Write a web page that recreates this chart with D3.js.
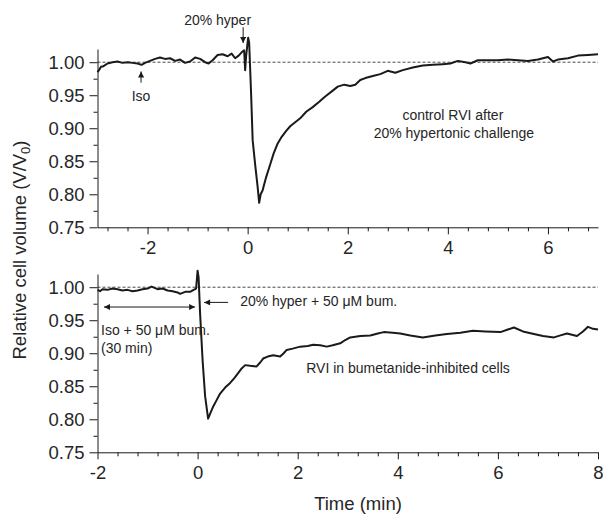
<!DOCTYPE html>
<html><head><meta charset="utf-8">
<script src="https://cdn.jsdelivr.net/npm/d3@7/dist/d3.min.js"></script>
<style>
html,body{margin:0;padding:0;background:#fff;}
svg{display:block;font-family:"Liberation Sans",Arial,Helvetica,sans-serif;}
</style></head>
<body>
<svg id="chart" width="603" height="514"></svg>
<script>
// ---- data (time in min, relative volume V/V0) ----
const controlTime = [-3.00,-2.97,-2.93,-2.88,-2.80,-2.70,-2.60,-2.50,-2.40,-2.30,-2.20,-2.12,-2.05,-1.95,-1.85,-1.75,-1.65,-1.55,-1.45,-1.35,-1.25,-1.15,-1.05,-0.95,-0.85,-0.78,-0.70,-0.60,-0.50,-0.40,-0.32,-0.25,-0.18,-0.12,-0.07,-0.05,-0.03,0.01,0.03,0.07,0.10,0.15,0.20,0.23,0.26,0.30,0.32,0.37,0.45,0.52,0.60,0.68,0.77,0.85,0.95,1.05,1.17,1.30,1.43,1.55,1.70,1.80,1.93,2.05,2.15,2.25,2.35,2.50,2.65,2.80,2.95,3.10,3.30,3.50,3.70,3.90,4.05,4.20,4.35,4.45,4.60,4.80,5.00,5.20,5.40,5.60,5.80,6.00,6.10,6.20,6.40,6.60,6.80,7.00];
const controlVolume = [0.985,0.988,0.993,0.994,0.998,1.000,1.001,0.999,1.000,0.999,0.998,0.996,0.999,1.002,1.005,1.007,1.005,1.006,1.002,1.004,0.999,1.001,1.007,1.005,1.000,0.998,1.003,1.011,1.012,1.009,1.013,1.006,1.010,1.015,1.018,0.988,1.010,1.037,1.030,0.950,0.882,0.845,0.811,0.787,0.800,0.806,0.812,0.826,0.845,0.862,0.877,0.887,0.896,0.903,0.909,0.915,0.925,0.932,0.940,0.948,0.957,0.963,0.966,0.964,0.966,0.973,0.976,0.979,0.982,0.987,0.984,0.988,0.992,0.995,0.996,0.997,0.998,1.002,1.000,0.998,1.003,1.003,1.003,1.004,1.003,1.002,1.004,1.008,1.001,1.004,1.006,1.010,1.011,1.012];

const bumTime = [-2.00,-1.95,-1.90,-1.80,-1.70,-1.60,-1.50,-1.40,-1.30,-1.20,-1.10,-1.00,-0.92,-0.80,-0.70,-0.60,-0.50,-0.40,-0.35,-0.25,-0.15,-0.08,-0.03,0.00,0.02,0.05,0.10,0.15,0.21,0.26,0.31,0.38,0.45,0.55,0.65,0.73,0.81,0.88,0.95,1.05,1.18,1.25,1.31,1.40,1.51,1.65,1.72,1.78,1.90,2.05,2.20,2.31,2.45,2.58,2.70,2.85,2.95,3.05,3.25,3.45,3.60,3.72,3.90,4.05,4.25,4.50,4.75,4.98,5.25,5.50,5.75,6.05,6.20,6.32,6.50,6.72,6.90,7.12,7.25,7.38,7.58,7.70,7.80,7.90,8.00];
const bumVolume = [0.996,0.994,0.997,0.996,0.998,0.997,0.995,0.996,0.994,0.995,0.997,0.998,1.001,0.997,0.998,0.995,0.994,0.992,0.990,0.993,0.993,0.996,0.998,1.025,1.015,0.960,0.889,0.835,0.801,0.810,0.819,0.829,0.839,0.848,0.855,0.862,0.870,0.877,0.882,0.881,0.880,0.886,0.892,0.895,0.897,0.895,0.900,0.905,0.907,0.910,0.911,0.913,0.912,0.910,0.912,0.915,0.920,0.924,0.926,0.927,0.930,0.932,0.931,0.930,0.927,0.924,0.927,0.929,0.931,0.934,0.933,0.932,0.936,0.939,0.933,0.929,0.926,0.924,0.927,0.930,0.926,0.933,0.940,0.937,0.936];

const yTickValues = [0.75,0.80,0.85,0.90,0.95,1.00];
const yMinorValues = [0.775,0.825,0.875,0.925,0.975];
const topXTicks = [-2,0,2,4,6];
const topXMinor = [-2.8,-2.4,-1.6,-1.2,-0.8,-0.4,0.4,0.8,1.2,1.6,2.4,2.8,3.2,3.6,4.4,4.8,5.2,5.6,6.4,6.8];
const botXTicks = [-2,0,2,4,6,8];
const botXMinor = [-1.6,-1.2,-0.8,-0.4,0.4,0.8,1.2,1.6,2.4,2.8,3.2,3.6,4.4,4.8,5.2,5.6,6.4,6.8,7.2,7.6];

// ---- layout ----
const svg = d3.select("#chart");
const ink = "#1a1a1a", txt = "#262626";
const tickFont = 18.5, noteFont = 14;
const hyphenFmt = d => String(d);

const panels = [
  {time: controlTime, vol: controlVolume, xd: [-3,7], xr: [97.5,598], yr: [227.3,49], ticks: topXTicks, minor: topXMinor},
  {time: bumTime, vol: bumVolume, xd: [-2,8], xr: [97.5,598], yr: [452.3,274], ticks: botXTicks, minor: botXMinor}
];

panels.forEach(p => {
  p.x = d3.scaleLinear().domain(p.xd).range(p.xr);
  p.y = d3.scaleLinear().domain([0.75,1.02]).range(p.yr);
  const g = svg.append("g");
  g.append("line")
    .attr("x1", p.x(p.xd[0])).attr("x2", p.x(p.xd[1]))
    .attr("y1", p.y(1)).attr("y2", p.y(1))
    .attr("stroke", "#333").attr("stroke-width", 0.9).attr("stroke-dasharray", "3,2");
  const pts = p.time.map((t,i) => [t, p.vol[i]]);
  g.append("path").datum(pts)
    .attr("fill","none").attr("stroke", ink).attr("stroke-width", 2)
    .attr("stroke-linejoin","round")
    .attr("d", d3.line().x(d => p.x(d[0])).y(d => p.y(d[1])));
  const y0 = p.y(0.75);
  const xa = g.append("g").attr("transform", `translate(0,${y0})`)
    .call(d3.axisBottom(p.x).tickValues(p.ticks).tickSize(7).tickSizeOuter(0).tickPadding(7).tickFormat(hyphenFmt));
  const xm = g.append("g").attr("transform", `translate(0,${y0})`)
    .call(d3.axisBottom(p.x).tickValues(p.minor).tickSize(4).tickFormat(""));
  xm.select(".domain").remove();
  const ya = g.append("g").attr("transform", `translate(${p.x(p.xd[0])},0)`)
    .call(d3.axisLeft(p.y).tickValues(yTickValues).tickSize(8).tickSizeOuter(0).tickPadding(5).tickFormat(d3.format(".2f")));
  const ym = g.append("g").attr("transform", `translate(${p.x(p.xd[0])},0)`)
    .call(d3.axisLeft(p.y).tickValues(yMinorValues).tickSize(4).tickFormat(""));
  ym.select(".domain").remove();
  [xa, xm, ya, ym].forEach(a => {
    a.selectAll("path,line").attr("stroke", ink).attr("stroke-width", 1);
    a.selectAll("text").attr("fill", txt).attr("font-size", tickFont).attr("font-family", "Liberation Sans, Arial, sans-serif");
  });
});

const defs = svg.append("defs");
defs.append("marker").attr("id","ah").attr("viewBox","0 0 10 10")
  .attr("refX",10).attr("refY",5).attr("markerWidth",7).attr("markerHeight",6)
  .attr("markerUnits","userSpaceOnUse").attr("orient","auto-start-reverse")
  .append("path").attr("d","M0,0 L10,5 L0,10 Z").attr("fill", ink);

function arrow(p, t1, v1, t2, v2, both) {
  const l = svg.append("line")
    .attr("x1", p.x(t1)).attr("y1", p.y(v1)).attr("x2", p.x(t2)).attr("y2", p.y(v2))
    .attr("stroke", ink).attr("stroke-width", 1).attr("marker-end", "url(#ah)");
  if (both) l.attr("marker-start", "url(#ah)");
}
function note(p, t, v, s, anchor) {
  return svg.append("text").attr("x", p.x(t)).attr("y", p.y(v))
    .attr("text-anchor", anchor || "start").attr("font-size", noteFont).attr("fill", txt).text(s);
}

const P1 = panels[0], P2 = panels[1];
note(P1, -0.6, 1.056, "20% hyper", "middle");
arrow(P1, -0.09, 1.053, -0.09, 1.029);
note(P1, -2.13, 0.941, "Iso", "middle");
arrow(P1, -2.13, 0.969, -2.13, 0.986);
note(P1, 4.1, 0.912, "control RVI after", "middle");
note(P1, 4.12, 0.885, "20% hypertonic challenge", "middle");

arrow(P2, -1.87, 0.970, -0.05, 0.970, true);
arrow(P2, 0.61, 0.977, 0.13, 0.977);
note(P2, 0.85, 0.971, "20% hyper + 50 \u03bcM bum.");
note(P2, -1.93, 0.927, "Iso + 50 \u03bcM bum.");
note(P2, -1.93, 0.900, "(30 min)");
note(P2, 2.17, 0.870, "RVI in bumetanide-inhibited cells");

svg.append("text").attr("x", 358).attr("y", 510).attr("text-anchor","middle")
  .attr("font-size", 18.5).attr("fill", txt).text("Time (min)");
const yl = svg.append("text").attr("transform", "translate(26,250) rotate(-90)")
  .attr("text-anchor","middle").attr("font-size", 18.5).attr("fill", txt);
yl.append("tspan").text("Relative cell volume (V/V");
yl.append("tspan").attr("font-size", 13).attr("dy", 4).text("0");
yl.append("tspan").attr("dy", -4).text(")");
</script>
</body></html>
